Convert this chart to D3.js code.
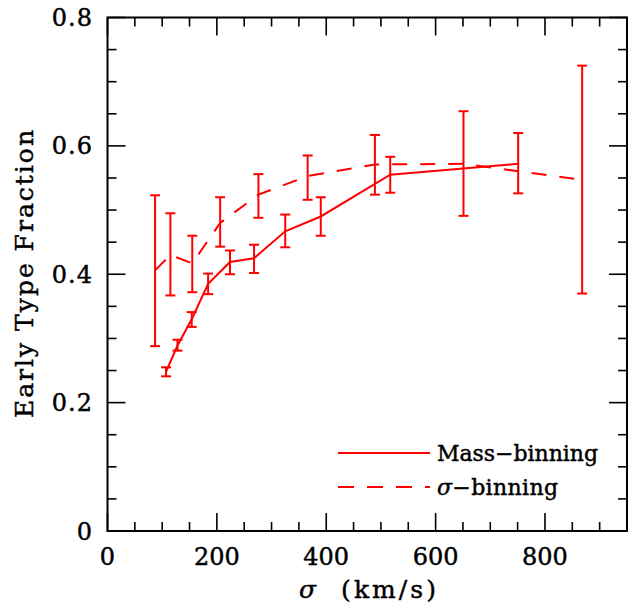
<!DOCTYPE html>
<html>
<head>
<meta charset="utf-8">
<script src="https://cdn.jsdelivr.net/npm/d3@7"></script>
<style>
  html, body { margin: 0; padding: 0; background: #fff; }
  svg { display: block; }
  text { font-family: "DejaVu Serif", serif; fill: #000; stroke: #000; stroke-width: 0.45px; }
</style>
</head>
<body>
<svg id="chart" width="630" height="605"></svg>
<script>
// Mass-binning series (solid)
const massX  = [107, 128, 154, 184, 224, 268, 325, 390, 517, 751];
const massY  = [0.248, 0.289, 0.330, 0.385, 0.419, 0.425, 0.467, 0.490, 0.555, 0.572];
const massLo = [0.241, 0.281, 0.318, 0.369, 0.400, 0.402, 0.442, 0.460, 0.527, 0.526];
const massHi = [0.255, 0.298, 0.341, 0.401, 0.437, 0.446, 0.493, 0.520, 0.583, 0.620];

// sigma-binning series (dashed)
const sigX  = [87, 115, 155, 206, 276, 366, 489, 651, 868];
const sigY  = [0.406, 0.430, 0.417, 0.480, 0.524, 0.553, 0.571, 0.572, 0.547];
const sigLo = [0.288, 0.367, 0.372, 0.443, 0.488, 0.516, 0.524, 0.491, 0.370];
const sigHi = [0.523, 0.495, 0.460, 0.520, 0.556, 0.585, 0.617, 0.654, 0.725];

const xMajor = [0, 200, 400, 600, 800];
const yMajor = [0, 0.2, 0.4, 0.6, 0.8];
const yTickLabels = ["0", "0.2", "0.4", "0.6", "0.8"];
const legendLabels = ["Mass\u2212binning", "\u03c3\u2212binning"];

const svg = d3.select("#chart");
const L = 107.5, R = 627, T = 17.5, B = 531;
const x = d3.scaleLinear().domain([0, 950]).range([L, R]);
const y = d3.scaleLinear().domain([0, 0.8]).range([B, T]);
const red = "#ff0000";

// frame
svg.append("rect").attr("x", L).attr("y", T).attr("width", R - L).attr("height", B - T)
  .attr("fill", "none").attr("stroke", "#000").attr("stroke-width", 2);

const xMinor = d3.range(0, 951, 50);
const yMinor = d3.range(0, 0.8001, 0.05);
const ticks = svg.append("g").attr("stroke", "#000").attr("stroke-width", 1.6);
xMinor.forEach(v => {
  const major = Math.abs(v % 200) < 1e-6;
  const len = major ? 18 : 9;
  const px = x(v);
  ticks.append("line").attr("x1", px).attr("x2", px).attr("y1", B).attr("y2", B - len);
  ticks.append("line").attr("x1", px).attr("x2", px).attr("y1", T).attr("y2", T + len);
});
yMinor.forEach(v => {
  const major = Math.abs((v / 0.2) - Math.round(v / 0.2)) < 1e-6;
  const len = major ? 18 : 9;
  const py = y(v);
  ticks.append("line").attr("y1", py).attr("y2", py).attr("x1", L).attr("x2", L + len);
  ticks.append("line").attr("y1", py).attr("y2", py).attr("x1", R).attr("x2", R - len);
});

// tick labels
svg.append("g").selectAll("text").data(xMajor).join("text")
  .attr("x", d => x(d)).attr("y", 565).attr("text-anchor", "middle")
  .attr("font-size", 24).text(d => d);
svg.append("g").selectAll("text").data(yMajor).join("text")
  .attr("x", 93).attr("y", d => y(d) + 8.5).attr("text-anchor", "end")
  .attr("font-size", 24).attr("letter-spacing", 1).text((d, i) => yTickLabels[i]);

// axis titles
const xt = svg.append("text").attr("x", 299).attr("y", 598).attr("font-size", 25)
  .attr("textLength", 137).attr("lengthAdjust", "spacing");
xt.append("tspan").attr("font-style", "italic").text("\u03c3");
xt.append("tspan").text("\u00a0\u00a0(km/s)");
svg.append("text").attr("transform", "translate(33,418) rotate(-90)")
  .attr("font-size", 25).attr("textLength", 288).attr("lengthAdjust", "spacing")
  .text("Early Type Fraction");

// lines
const line = d3.line().x(d => x(d[0])).y(d => y(d[1]));
const massPts = massX.map((v, i) => [v, massY[i]]);
const sigPts = sigX.map((v, i) => [v, sigY[i]]);
svg.append("path").attr("d", line(massPts)).attr("fill", "none").attr("stroke", red).attr("stroke-width", 2);
svg.append("path").attr("d", line(sigPts)).attr("fill", "none").attr("stroke", red).attr("stroke-width", 2)
  .attr("stroke-dasharray", "15,13");

// error bars
function errBars(xs, lo, hi) {
  const g = svg.append("g").attr("stroke", red).attr("stroke-width", 2);
  xs.forEach((v, i) => {
    const px = x(v);
    g.append("line").attr("x1", px).attr("x2", px).attr("y1", y(lo[i])).attr("y2", y(hi[i]));
    g.append("line").attr("x1", px - 5).attr("x2", px + 5).attr("y1", y(lo[i])).attr("y2", y(lo[i]));
    g.append("line").attr("x1", px - 5).attr("x2", px + 5).attr("y1", y(hi[i])).attr("y2", y(hi[i]));
  });
}
errBars(massX, massLo, massHi);
errBars(sigX, sigLo, sigHi);

// legend
const lg = svg.append("g");
lg.append("line").attr("x1", 338).attr("x2", 430).attr("y1", 453).attr("y2", 453)
  .attr("stroke", red).attr("stroke-width", 2);
lg.append("line").attr("x1", 338).attr("x2", 430).attr("y1", 487).attr("y2", 487)
  .attr("stroke", red).attr("stroke-width", 2).attr("stroke-dasharray", "16,13");
lg.append("text").attr("x", 437).attr("y", 461).attr("font-size", 22)
  .attr("textLength", 161).attr("lengthAdjust", "spacing").text(legendLabels[0]);
const t2 = lg.append("text").attr("x", 437).attr("y", 495).attr("font-size", 22)
  .attr("textLength", 121).attr("lengthAdjust", "spacing");
t2.append("tspan").attr("font-style", "italic").text("\u03c3");
t2.append("tspan").text("\u2212binning");
</script>
</body>
</html>
